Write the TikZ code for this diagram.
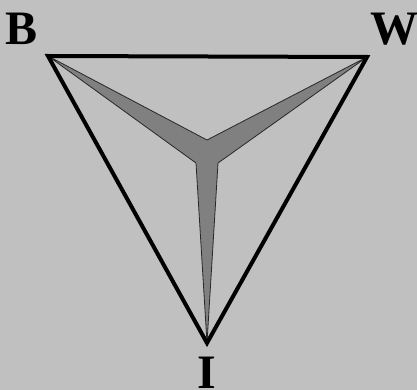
\documentclass[tikz,border=0pt]{standalone}
\usepackage{fontspec}
\setmainfont{Liberation Serif}
\usetikzlibrary{positioning}
\definecolor{bgray}{RGB}{192,192,192}
\definecolor{midgray}{RGB}{128,128,128}
\definecolor{edgegray}{RGB}{40,40,40}
\tikzset{
  corner/.style={font=\fontsize{48}{48}\selectfont\bfseries, inner sep=0pt},
  frame/.style={line width=4pt, color=black, line join=miter},
  star/.style={fill=midgray, draw=edgegray, line width=0.8pt, line join=miter}
}
\begin{document}
\begin{tikzpicture}[x=1pt, y=-1pt]
  % Background
  \fill[bgray] (0,0) rectangle (417,390);
  \useasboundingbox (0,0) rectangle (417,390);

  % Vertices
  \coordinate (B) at (48,56);
  \coordinate (W) at (367,57);
  \coordinate (I) at (207,343);

  % Inner corners of the star
  \coordinate (notch) at (207,140);
  \coordinate (left) at (196,163);
  \coordinate (right) at (218,163);

  % Star
  \draw[star] (B) -- (notch) -- (W) -- (right) -- (I) -- (left) -- cycle;

  % Triangle
  \draw[frame] (B) -- (W) -- (I) -- cycle;

  % Labels
  \node[corner] (labB) at (22,29) {B};
  \node[corner] (labW) at (394,29) {W};
  \node[corner] (labI) at (207,373) {I};
\end{tikzpicture}
\end{document}
